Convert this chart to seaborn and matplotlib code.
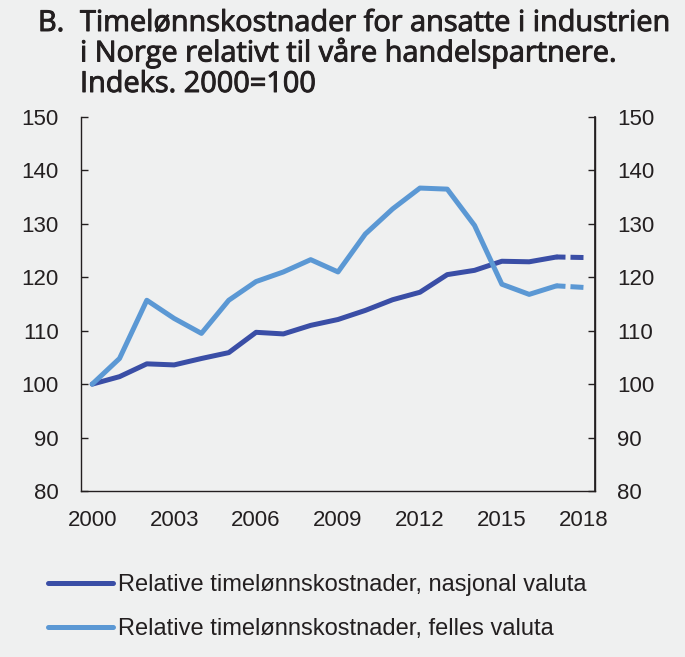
import numpy as np
import pandas as pd
import seaborn as sns
import matplotlib.pyplot as plt
import matplotlib.patheffects as pe

# data (index 2000=100)
years = list(range(2000, 2019))
nasjonal = [100.0, 101.4, 103.8, 103.6, 104.8, 105.9, 109.7, 109.4, 111.0, 112.1,
            113.8, 115.8, 117.2, 120.5, 121.3, 123.0, 122.9, 123.8, 123.7]
felles = [100.0, 104.8, 115.7, 112.3, 109.5, 115.7, 119.2, 121.0, 123.3, 121.0,
          128.1, 132.8, 136.7, 136.5, 129.7, 118.7, 116.8, 118.4, 118.1]
labels = ["Relative timelønnskostnader, nasjonal valuta",
          "Relative timelønnskostnader, felles valuta"]
title_lines = ["Timelønnskostnader for ansatte i industrien",
               "i Norge relativt til våre handelspartnere.",
               "Indeks. 2000=100"]

bg = "#eff0f0"
dark = "#3a4ea6"
light = "#5b98d4"
txt = "#231f20"

sns.set_theme(style="white")
plt.rcParams["font.family"] = ["Liberation Sans", "DejaVu Sans"]

df = pd.DataFrame({"year": years, "nasjonal": nasjonal, "felles": felles})
solid = df[df["year"] <= 2017]
proj = df[df["year"] >= 2017]

fig = plt.figure(figsize=(6.85, 6.57), dpi=100, facecolor=bg)
ax = fig.add_axes([81 / 685, 1 - 491 / 657, (595 - 81) / 685, (491 - 117) / 657])
ax.set_facecolor(bg)

lw = 3.6
dash = (0, (1.8, 1.0, 2.6, 3))
for col, c, lab in [("nasjonal", dark, labels[0]), ("felles", light, labels[1])]:
    sns.lineplot(data=solid, x="year", y=col, ax=ax, color=c, lw=lw, label=lab,
                 solid_capstyle="round", solid_joinstyle="round")
    sns.lineplot(data=proj, x="year", y=col, ax=ax, color=c, lw=lw,
                 linestyle=dash, dash_capstyle="butt", legend=False)

ax.set_xlim(1999.59, 2018.41)
ax.set_ylim(80, 150)
ax.set_xticks(range(2000, 2019, 3))
ax.set_yticks(range(80, 151, 10))
ax.set_xlabel("")
ax.set_ylabel("")
ax.spines["top"].set_visible(False)
for s in ["left", "right", "bottom"]:
    ax.spines[s].set_color(txt)
    ax.spines[s].set_linewidth(1.0)

ax.tick_params(axis="y", direction="in", length=5, width=1, color=txt,
               labelsize=16, labelcolor=txt, pad=16, left=True)
ax.tick_params(axis="x", length=0, labelsize=16, labelcolor=txt, pad=14)

ax2 = ax.twinx()
ax2.set_ylim(80, 150)
ax2.set_yticks(range(80, 151, 10))
ax2.tick_params(axis="y", direction="in", length=5, width=1, color=txt,
                labelsize=16, labelcolor=txt, pad=16)
for s in ["top", "left", "bottom"]:
    ax2.spines[s].set_visible(False)
ax2.spines["right"].set_color(txt)

leg = ax.legend(loc="upper left", bbox_to_anchor=(48 / 685, 1 - 574 / 657),
                bbox_transform=fig.transFigure, frameon=False, fontsize=17,
                handlelength=2.75, handletextpad=0.2, labelspacing=0.95,
                borderaxespad=0, borderpad=0)
for t in leg.get_texts():
    t.set_color(txt)

# title: Open Sans, slightly thickened to look semibold
tfont = ["Open Sans", "DejaVu Sans"]
thick = [pe.withStroke(linewidth=0.7, foreground=txt)]
fig.text(38 / 685, 1 - 31 / 657, "B.", family=tfont, fontsize=20.8,
         color=txt, va="baseline", ha="left", path_effects=thick)
for i, line in enumerate(title_lines):
    fig.text(80 / 685, 1 - (31 + 30.5 * i) / 657, line, family=tfont,
             fontsize=20.8, color=txt, va="baseline", ha="left",
             path_effects=thick)

fig.savefig("out.png", dpi=100, facecolor=bg)
